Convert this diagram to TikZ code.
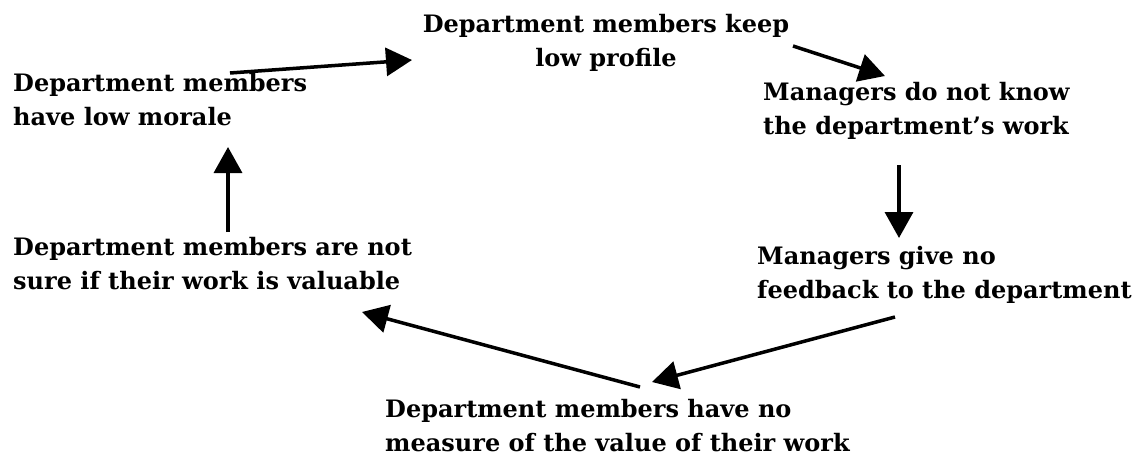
\documentclass[tikz,border=0pt]{standalone}
\usepackage{fontspec}
\setmainfont{DejaVu Serif}
\usetikzlibrary{arrows.meta}
\tikzset{
  cause/.style={font=\fontsize{24}{34}\selectfont\bfseries, inner sep=0pt, align=left, anchor=west},
  link/.style={draw=black, line width=3.5pt, -{Triangle[length=26pt,width=28pt]}}
}
\begin{document}
\begin{tikzpicture}[x=1pt,y=-1pt]

     \useasboundingbox (0,0) rectangle (1138,458);

     % the six statements round the loop
     \node[cause, align=center, anchor=center] (keep)  at (606,43){Department members keep\\low profile};
     \node[cause] (know)  at (763,111){Managers do not know\\the department's work};
     \node[cause] (feed)  at (757,275){Managers give no\\feedback to the department};
     \node[cause] (measure)  at (385,426){Department members have no\\measure of the value of their work};
     \node[cause] (sure)  at (13,264){Department members are not\\sure if their work is valuable};
     \node[cause] (morale)  at (13,100){Department members\\have low morale};

     % arrow ends
     \coordinate (m1) at (230,73);   \coordinate (k1) at (412,60);
     \coordinate (k2) at (793,46);   \coordinate (n1) at (885,76);
     \coordinate (n2) at (899,165);  \coordinate (f1) at (899,238);
     \coordinate (f2) at (895,317);  \coordinate (b1) at (652,382);
     \coordinate (b2) at (640,387);  \coordinate (s1) at (362,312);
     \coordinate (s2) at (228,232);  \coordinate (m2) at (228,147);

     \draw [link] (m1) to  (k1);
     \draw [link] (k2) to  (n1);
     \draw [link] (n2) to  (f1);
     \draw [link] (f2) to  (b1);
     \draw [link] (b2) to  (s1);
     \draw [link] (s2) to  (m2);

\end{tikzpicture}
\end{document}
